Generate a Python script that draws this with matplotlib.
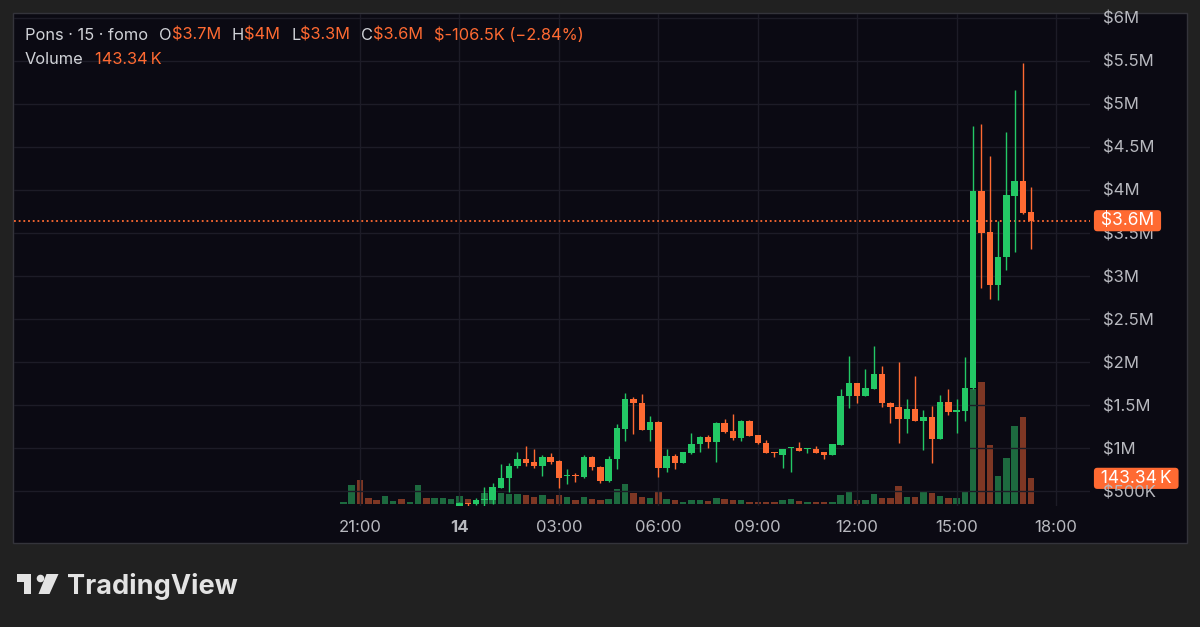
import numpy as np
import pandas as pd
import matplotlib
matplotlib.use("Agg")
import matplotlib.pyplot as plt
import matplotlib.dates as mdates
from matplotlib.patches import Rectangle, Polygon, Ellipse
from matplotlib.transforms import blended_transform_factory

plt.rcParams['font.family'] = ['Inter', 'DejaVu Sans']

# 15 minute candles, prices in $M, volume in K
start = "2024-03-13 20:30"
opens = [0.06, 0.08, 0.16, 0.12, 0.11, 0.10, 0.13, 0.14, 0.13, 0.14, 0.22, 0.20,
         0.23, 0.26, 0.29, 0.36, 0.35, 0.395, 0.39, 0.54, 0.647, 0.795, 0.876, 0.841,
         0.795, 0.891, 0.849, 0.670, 0.685, 0.667, 0.891, 0.783, 0.620, 0.868, 1.225, 1.570,
         1.527, 1.209, 1.302, 0.771, 0.907, 0.829, 0.946, 1.047, 1.124, 1.074, 1.287, 1.198,
         1.112, 1.318, 1.147, 1.062, 0.953, 0.919, 0.995, 0.996, 0.985, 0.988, 0.949, 0.919,
         1.035, 1.608, 1.752, 1.605, 1.690, 1.860, 1.527, 1.473, 1.333, 1.450, 1.318, 1.357,
         1.109, 1.535, 1.420, 1.435, 1.694, 3.988, 3.510, 2.895, 3.225, 3.930, 4.105, 3.750]
highs = [0.09, 0.19, 0.18, 0.13, 0.12, 0.14, 0.15, 0.15, 0.15, 0.24, 0.23, 0.24,
         0.27, 0.30, 0.37, 0.365, 0.42, 0.55, 0.59, 0.81, 0.83, 0.95, 1.023, 0.988,
         0.919, 0.946, 0.860, 0.752, 0.705, 0.915, 0.907, 0.790, 0.907, 1.279, 1.643, 1.593,
         1.628, 1.372, 1.310, 0.992, 0.930, 0.957, 1.171, 1.140, 1.151, 1.298, 1.333, 1.395,
         1.320, 1.322, 1.150, 1.093, 0.955, 0.990, 1.016, 1.074, 0.995, 1.023, 0.950, 1.050,
         1.686, 2.070, 1.760, 1.915, 2.190, 1.953, 1.530, 2.004, 1.566, 1.837, 1.442, 1.488,
         1.616, 1.686, 1.566, 2.062, 4.744, 4.767, 4.395, 3.640, 4.678, 5.163, 5.481, 4.030]
lows = [0.05, 0.07, 0.10, 0.10, 0.09, 0.10, 0.12, 0.12, 0.13, 0.13, 0.19, 0.19,
        0.22, 0.25, 0.28, 0.33, 0.34, 0.33, 0.35, 0.53, 0.485, 0.764, 0.795, 0.764,
        0.678, 0.810, 0.531, 0.578, 0.609, 0.655, 0.744, 0.589, 0.609, 0.756, 1.085, 1.163,
        1.209, 1.085, 0.659, 0.725, 0.752, 0.820, 0.930, 0.957, 0.996, 0.833, 1.171, 1.093,
        1.085, 1.140, 1.050, 0.946, 0.899, 0.771, 0.717, 0.965, 0.946, 0.940, 0.876, 0.915,
        1.030, 1.469, 1.527, 1.600, 1.686, 1.473, 1.295, 1.062, 1.171, 1.318, 0.977, 0.822,
        1.100, 1.384, 1.171, 1.318, 1.690, 2.857, 2.729, 2.721, 3.070, 3.283, 3.721, 3.317]
closes = [0.08, 0.16, 0.12, 0.11, 0.10, 0.13, 0.14, 0.13, 0.14, 0.22, 0.20, 0.23,
          0.26, 0.29, 0.36, 0.35, 0.39, 0.41, 0.55, 0.655, 0.795, 0.876, 0.829, 0.791,
          0.891, 0.841, 0.655, 0.680, 0.675, 0.891, 0.775, 0.620, 0.868, 1.229, 1.570, 1.519,
          1.209, 1.302, 0.771, 0.907, 0.829, 0.953, 1.047, 1.124, 1.074, 1.287, 1.190, 1.112,
          1.318, 1.143, 1.054, 0.946, 0.938, 0.984, 1.004, 0.969, 0.992, 0.946, 0.922, 1.043,
          1.608, 1.752, 1.605, 1.694, 1.860, 1.527, 1.473, 1.333, 1.450, 1.318, 1.357, 1.109,
          1.535, 1.419, 1.442, 1.694, 3.988, 3.504, 2.895, 3.225, 3.942, 4.105, 3.736, 3.643]
volumes = [11, 105, 132, 33, 22, 44, 17, 28, 11, 105, 33, 33,
           33, 28, 44, 28, 22, 63, 60, 60, 55, 55, 50, 40,
           50, 29, 53, 40, 22, 40, 26, 22, 29, 86, 110, 59,
           40, 31, 72, 28, 22, 13, 22, 22, 17, 31, 26, 22,
           22, 13, 11, 11, 11, 22, 26, 15, 11, 11, 9, 11,
           48, 70, 24, 22, 57, 31, 31, 99, 37, 42, 72, 61,
           46, 36, 31, 75, 642, 679, 331, 157, 259, 435, 483, 143.34]

time_ticks = pd.date_range("2024-03-13 21:00", "2024-03-14 18:00", freq="3h")
price_ticks = np.arange(0.5, 6.01, 0.5)
header_top = [("Pons · 15 · fomo", "grey"), ("O", "grey"), ("$3.7M", "val"),
              ("H", "grey"), ("$4M", "val"), ("L", "grey"), ("$3.3M", "val"),
              ("C", "grey"), ("$3.6M", "val"), ("$-106.5K (−2.84%)", "val")]
header_vol = [("Volume", "grey"), ("143.34\u2009K", "val")]
last_price_label = "$3.6M"
last_vol_label = "143.34\u2009K"

GREEN = "#23c865"
ORANGE = "#ff6a32"
VGREEN = "#1d6a3f"
VRED = "#7e3724"
PANEL = "#0b0a13"
OUTER = "#212121"
GRID = "#1d1c27"
TXT = "#b8b9bf"

W, H = 1200, 627


def fx(px):
    return px / W


def fy(py):
    return 1 - py / H


o = np.array(opens)
h = np.array(highs)
l = np.array(lows)
c = np.array(closes)
v = np.array(volumes)
times = pd.date_range(start, periods=len(o), freq="15min")
x = mdates.date2num(times)
bar_w = 15 / 1440 * 0.78

up = c >= o
cols = np.where(up, GREEN, ORANGE)
vcols = np.where(up, VGREEN, VRED)

fig = plt.figure(figsize=(12, 6.27), dpi=100, facecolor=OUTER)
fig.patches.append(Rectangle((fx(13), fy(543)), fx(1187 - 13), (543 - 13) / H,
                             transform=fig.transFigure, fc=PANEL, ec="#34343b",
                             lw=1, zorder=-5))

rect = [fx(14), fy(506), fx(1090 - 14), (506 - 14) / H]
axv = fig.add_axes(rect)
axv.patch.set_alpha(0)
ax = fig.add_axes(rect, sharex=axv)
ax.patch.set_alpha(0)

# volume pane
axv.bar(x, v, width=bar_w, color=vcols)
axv.set_ylim(-11, 2734)
axv.axis("off")

# candles
body_lo = np.minimum(o, c)
body_h = np.maximum(np.abs(c - o), 0.012)
ax.vlines(x, l, h, colors=cols, lw=1.0, zorder=3)
ax.bar(x, body_h, bottom=body_lo, width=bar_w, color=cols, zorder=4)

base = pd.Timestamp("2024-03-13 21:00")
ax.set_xlim(mdates.date2num(base - pd.Timedelta(minutes=626.4)),
            mdates.date2num(base + pd.Timedelta(minutes=1321.5)))
ax.set_ylim(0.3256, 6.0465)

ax.set_xticks(mdates.date2num(time_ticks))
ax.set_xticklabels([str(t.day) if t.hour == 0 else t.strftime("%H:%M") for t in time_ticks])
for t, lab in zip(time_ticks, ax.get_xticklabels()):
    if t.hour == 0:
        lab.set_fontweight("bold")
        lab.set_color("#e8e8ea")

ax.set_yticks(price_ticks)
ax.set_yticklabels(["$500K" if p < 1 else f"${p:g}M" for p in price_ticks])
ax.yaxis.tick_right()
ax.tick_params(axis="both", length=0, labelsize=12, labelcolor=TXT)
ax.tick_params(axis="y", pad=9)
ax.tick_params(axis="x", pad=10)
for s in ax.spines.values():
    s.set_visible(False)
ax.grid(True, color=GRID, lw=1)
ax.set_axisbelow(True)

# last price line and labels
ax.axhline(c[-1], color=ORANGE, lw=1.3, ls=(0, (1, 1.6)), zorder=2)
trp = blended_transform_factory(ax.transAxes, ax.transData)
ax.text(1 + 6 / 1076, c[-1], " " + last_price_label + " ", transform=trp,
        ha="left", va="center", fontsize=12.5, color="white", zorder=10,
        clip_on=False, bbox=dict(boxstyle="round,pad=0.12,rounding_size=0.2", fc=ORANGE, ec="none"))
trv = blended_transform_factory(axv.transAxes, axv.transData)
axv.text(1 + 6 / 1076, v[-1], " " + last_vol_label + " ", transform=trv,
         ha="left", va="center", fontsize=12.5, color="white", zorder=10,
         clip_on=False, bbox=dict(boxstyle="round,pad=0.12,rounding_size=0.2", fc=ORANGE, ec="none"))

# legend header
renderer = fig.canvas.get_renderer()


def header_row(parts, px0, py):
    xpos = px0
    for i, (s, kind) in enumerate(parts):
        t = fig.text(fx(xpos), fy(py), s, ha="left", va="center", fontsize=11.8,
                     color="#d1d3d8" if kind == "grey" else ORANGE)
        wpx = t.get_window_extent(renderer).width
        gap = 0 if (kind == "grey" and len(s) == 1) else 11
        xpos += wpx + gap


header_row(header_top, 25, 35)
header_row(header_vol, 25, 60)

# TradingView logo
logo_col = "#e3e3e3"
fig.patches.append(Polygon([(fx(17), fy(574)), (fx(30.5), fy(574)), (fx(30.5), fy(594)),
                            (fx(23.5), fy(594)), (fx(23.5), fy(582)), (fx(17), fy(582))],
                           closed=True, transform=fig.transFigure, fc=logo_col, ec="none"))
fig.patches.append(Ellipse((fx(40.5), fy(578.5)), 7.6 / W, 7.6 / H,
                           transform=fig.transFigure, fc=logo_col, ec="none"))
fig.patches.append(Polygon([(fx(46.5), fy(574)), (fx(58.5), fy(574)), (fx(49.5), fy(594)),
                            (fx(38.5), fy(594))],
                           closed=True, transform=fig.transFigure, fc=logo_col, ec="none"))
fig.text(fx(67), fy(594), "TradingView", ha="left", va="baseline", fontsize=19.5,
         fontweight="bold", color=logo_col)

fig.savefig("out.png", dpi=100, facecolor=OUTER)
